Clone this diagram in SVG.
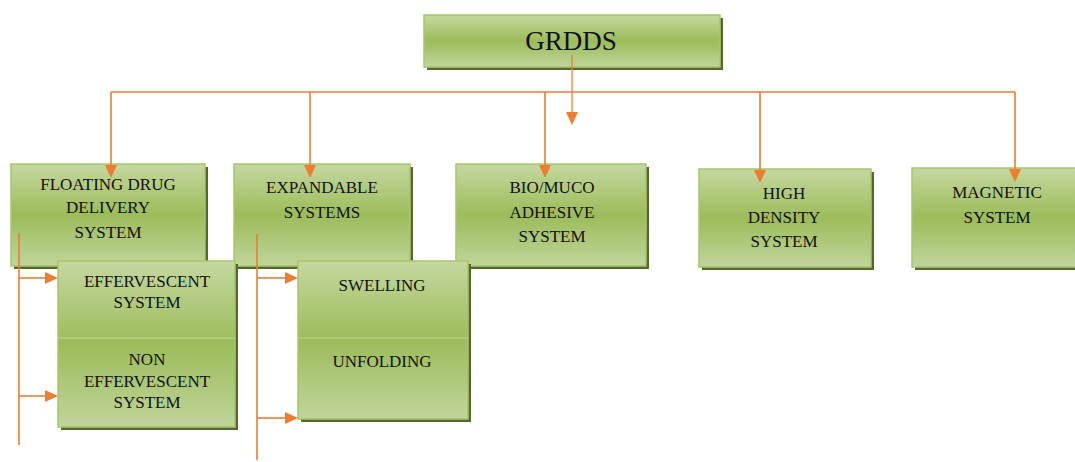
<svg xmlns="http://www.w3.org/2000/svg" width="1075" height="462" viewBox="0 0 1075 462" font-family="Liberation Serif, serif">
  <style>
    .shadow { fill: #56692c; }
    .box { stroke: #a8c66c; stroke-width: 1.5; }
    .divider { stroke: #b5cf85; stroke-width: 1.5; }
    .label { font-family: 'Liberation Serif', serif; font-size: 17px; fill: #111; text-anchor: middle; }
    .title { font-family: 'Liberation Serif', serif; font-size: 27px; fill: #111; text-anchor: middle; }
    .wire { stroke: #ed7d31; stroke-width: 1.6; fill: none; }
    .head { fill: #ed7d31; }
  </style>
  <defs>
    <linearGradient id="greenFill" x1="0" y1="0" x2="0" y2="1">
      <stop offset="0" stop-color="#c5d8a0"/>
      <stop offset="0.5" stop-color="#9cbc5a"/>
      <stop offset="1" stop-color="#c0d59b"/>
    </linearGradient>
  </defs>

  <rect width="1075" height="462" fill="#ffffff"/>

  <!-- Root node -->
  <g id="node-grdds">
    <rect class="shadow" x="427" y="18" width="296" height="52"/>
    <rect class="box" fill="url(#greenFill)" x="424" y="15" width="296" height="52"/>
    <text class="title" x="571" y="50">GRDDS</text>
  </g>

  <!-- Floating drug delivery system -->
  <g id="node-floating">
    <rect class="shadow" x="14" y="167" width="194" height="102"/>
    <rect class="box" fill="url(#greenFill)" x="11" y="164" width="194" height="102"/>
    <text class="label" x="108" y="190">FLOATING DRUG</text>
    <text class="label" x="108" y="213">DELIVERY</text>
    <text class="label" x="108" y="238">SYSTEM</text>
  </g>

  <!-- Expandable systems -->
  <g id="node-expandable">
    <rect class="shadow" x="237" y="167" width="176" height="102"/>
    <rect class="box" fill="url(#greenFill)" x="234" y="164" width="176" height="102"/>
    <text class="label" x="322" y="193">EXPANDABLE</text>
    <text class="label" x="322" y="218">SYSTEMS</text>
  </g>

  <!-- Bio/muco adhesive system -->
  <g id="node-biomuco">
    <rect class="shadow" x="459" y="167" width="190" height="102"/>
    <rect class="box" fill="url(#greenFill)" x="456" y="164" width="190" height="102"/>
    <text class="label" x="552" y="193">BIO/MUCO</text>
    <text class="label" x="552" y="218">ADHESIVE</text>
    <text class="label" x="552" y="242">SYSTEM</text>
  </g>

  <!-- High density system -->
  <g id="node-highdensity">
    <rect class="shadow" x="702" y="172" width="172" height="98"/>
    <rect class="box" fill="url(#greenFill)" x="699" y="169" width="172" height="98"/>
    <text class="label" x="784" y="199">HIGH</text>
    <text class="label" x="784" y="223">DENSITY</text>
    <text class="label" x="784" y="247">SYSTEM</text>
  </g>

  <!-- Magnetic system -->
  <g id="node-magnetic">
    <rect class="shadow" x="915" y="171" width="170" height="99"/>
    <rect class="box" fill="url(#greenFill)" x="912" y="168" width="170" height="99"/>
    <text class="label" x="997" y="198">MAGNETIC</text>
    <text class="label" x="997" y="223">SYSTEM</text>
  </g>

  <!-- Connectors: lines, then filled arrowheads -->
  <g id="connectors">
    <path class="wire" d="M111,92 H1015"/>
    <path class="wire" d="M572,55 V113" stroke-opacity="0.8"/>
    <path class="wire" d="M111,92 V166"/>
    <path class="wire" d="M310,92 V166"/>
    <path class="wire" d="M545,92 V166"/>
    <path class="wire" d="M760,92 V171"/>
    <path class="wire" d="M1015,92 V170"/>
    <path class="wire" d="M19,233 V445"/>
    <path class="wire" d="M19,278 H46"/>
    <path class="wire" d="M19,396 H46"/>
    <path class="wire" d="M257,234 V460"/>
    <path class="wire" d="M257,278 H286"/>
    <path class="wire" d="M257,418 H286"/>
    <path class="head" d="M566,112 L578,112 L572,125 Z"/>
    <path class="head" d="M105,165 L117,165 L111,178 Z"/>
    <path class="head" d="M304,165 L316,165 L310,178 Z"/>
    <path class="head" d="M539,165 L551,165 L545,178 Z"/>
    <path class="head" d="M754,170 L766,170 L760,183 Z"/>
    <path class="head" d="M1009,169 L1021,169 L1015,182 Z"/>
    <path class="head" d="M45,272 L45,284 L58,278 Z"/>
    <path class="head" d="M45,390 L45,402 L58,396 Z"/>
    <path class="head" d="M285,272 L285,284 L298,278 Z"/>
    <path class="head" d="M285,412 L285,424 L298,418 Z"/>
  </g>

  <!-- Effervescent / non-effervescent stack -->
  <g id="node-effervescent">
    <rect class="shadow" x="61" y="264" width="177" height="166"/>
    <rect class="box" fill="url(#greenFill)" x="58" y="261" width="177" height="166"/>
    <line class="divider" x1="58" y1="338" x2="235" y2="338"/>
    <text class="label" x="147" y="287">EFFERVESCENT</text>
    <text class="label" x="147" y="308">SYSTEM</text>
  </g>
  <g id="node-noneffervescent">
    <text class="label" x="147" y="365">NON</text>
    <text class="label" x="147" y="387">EFFERVESCENT</text>
    <text class="label" x="147" y="408">SYSTEM</text>
  </g>

  <!-- Swelling / unfolding stack -->
  <g id="node-swelling">
    <rect class="shadow" x="301" y="264" width="170" height="158"/>
    <rect class="box" fill="url(#greenFill)" x="298" y="261" width="170" height="158"/>
    <line class="divider" x1="298" y1="338" x2="468" y2="338"/>
    <text class="label" x="382" y="291">SWELLING</text>
  </g>
  <g id="node-unfolding">
    <text class="label" x="382" y="367">UNFOLDING</text>
  </g>
</svg>
